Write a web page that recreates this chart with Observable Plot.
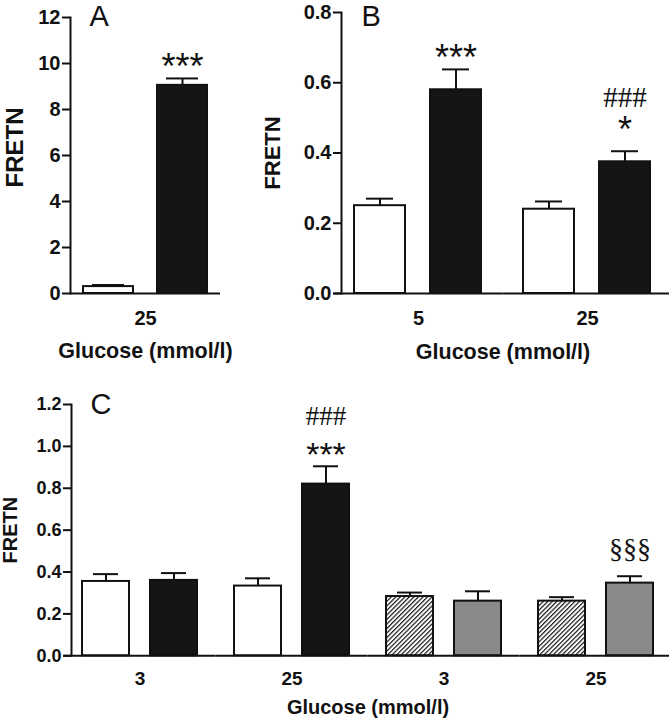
<!DOCTYPE html>
<html>
<head>
<meta charset="utf-8">
<script src="https://cdn.jsdelivr.net/npm/d3@7"></script>
<script src="https://cdn.jsdelivr.net/npm/@observablehq/plot@0.6"></script>
<style>
  html, body { margin: 0; padding: 0; background: #fff; }
  #wrap { position: relative; width: 669px; height: 719px; overflow: hidden; background: #fff; }
  #wrap > div { position: absolute; }
  #wrap svg { display: block; }
</style>
</head>
<body>
<div id="wrap">
  <div id="pa" style="left:0px;top:0px"></div>
  <div id="pb" style="left:240px;top:0px"></div>
  <div id="pc" style="left:0px;top:370px"></div>
</div>
<script>
// ---------- Panel A ----------
const groupsA = ["25"];
const groupLabelsA = ["25"];
const barGroupA = ["25", "25"];
const condA = ["ctrl", "treat"];
const kindA = ["open", "solid"];
const meanA = [0.30, 9.05];
const semA = [0.07, 0.30];
const starsA = ["", "***"];
const hashA = ["", ""];
const sectA = ["", ""];
const yTicksA = [0, 2, 4, 6, 8, 10, 12];
const yTickLabelsA = ["0", "2", "4", "6", "8", "10", "12"];

// ---------- Panel B ----------
const groupsB = ["5", "25"];
const groupLabelsB = ["5", "25"];
const barGroupB = ["5", "5", "25", "25"];
const condB = ["ctrl", "treat", "ctrl", "treat"];
const kindB = ["open", "solid", "open", "solid"];
const meanB = [0.25, 0.58, 0.24, 0.375];
const semB = [0.02, 0.058, 0.022, 0.03];
const starsB = ["", "***", "", "*"];
const hashB = ["", "", "", "###"];
const sectB = ["", "", "", ""];
const yTicksB = [0, 0.2, 0.4, 0.6, 0.8];
const yTickLabelsB = ["0.0", "0.2", "0.4", "0.6", "0.8"];

// ---------- Panel C ----------
const groupsC = ["3a", "25a", "3b", "25b"];
const groupLabelsC = ["3", "25", "3", "25"];
const barGroupC = ["3a", "3a", "25a", "25a", "3b", "3b", "25b", "25b"];
const condC = ["ctrl", "treat", "ctrl", "treat", "ctrl", "treat", "ctrl", "treat"];
const kindC = ["open", "solid", "open", "solid", "striped", "shaded", "striped", "shaded"];
const meanC = [0.355, 0.36, 0.333, 0.82, 0.283, 0.261, 0.261, 0.347];
const semC = [0.035, 0.035, 0.037, 0.085, 0.019, 0.047, 0.019, 0.033];
const starsC = ["", "", "", "***", "", "", "", ""];
const hashC = ["", "", "", "###", "", "", "", ""];
const sectC = ["", "", "", "", "", "", "", "§§§"];
const yTicksC = [0, 0.2, 0.4, 0.6, 0.8, 1.0, 1.2];
const yTickLabelsC = ["0.0", "0.2", "0.4", "0.6", "0.8", "1.0", "1.2"];

const kinds = ["open", "solid", "striped", "shaded"];
const kindFills = ["#ffffff", "#151515", "url(#hatchC)", "#8a8a8a"];
const INK = "#111111";
const SANS = "'Liberation Sans', Arial, Helvetica, sans-serif";
const SERIF = "'Liberation Serif', 'Times New Roman', serif";

function rows(g, c, k, m, s, st, h, sc) {
  return m.map((v, i) => ({group: g[i], cond: c[i], kind: k[i], mean: v, top: v + s[i],
    star: st[i], hash: h[i], sect: sc[i]}));
}

function setFont(svg, label, size, shiftY) {
  const g = svg.querySelector(`[aria-label="${label}"]`);
  if (!g) return;
  g.setAttribute("font-size", size);
  g.setAttribute("font-weight", "bold");
  g.querySelectorAll("text").forEach(t => { t.setAttribute("font-size", size); t.setAttribute("font-weight", "bold"); });
  if (shiftY) g.setAttribute("transform", (g.getAttribute("transform") || "") + ` translate(0,${shiftY})`);
}

function panel(o) {
  const data = rows(o.barGroup, o.cond, o.kind, o.mean, o.sem, o.stars, o.hash, o.sect);
  const lab = new Map(o.groups.map((g, i) => [g, o.groupLabels[i]]));
  const svg = Plot.plot({
    width: o.width, height: o.height,
    marginLeft: o.ml, marginRight: o.mr, marginTop: o.mt, marginBottom: o.mb,
    style: {fontFamily: SANS, color: INK, background: "#fff", overflow: "visible"},
    fx: {domain: o.groups, paddingInner: o.fxPad, paddingOuter: 0},
    x: {domain: ["ctrl", "treat"], paddingInner: o.xpi, paddingOuter: o.xpo, axis: null},
    y: {domain: o.yDomain, axis: null},
    color: {type: "ordinal", domain: kinds, range: kindFills},
    marks: [
      Plot.frame({anchor: "left", facetAnchor: "left", stroke: INK, strokeWidth: 2}),
      Plot.axisY({ticks: o.yTicks, tickFormat: d => o.yTickLabels[o.yTicks.indexOf(d)],
        tickSize: 8, tickPadding: 2, stroke: INK, strokeWidth: 2,
        fontSize: o.tickFont, fontWeight: "bold",
        label: "FRETN", labelAnchor: "center", labelArrow: "none", labelOffset: o.yLabelOffset}),
      Plot.axisFx({anchor: "bottom", tickSize: 0, tickPadding: o.fxTickPad,
        tickFormat: g => lab.get(g), fontSize: o.tickFont, fontWeight: "bold",
        label: "Glucose (mmol/l)", labelAnchor: "center", labelArrow: "none", labelOffset: o.xLabelOffset}),
      Plot.ruleX(data, {fx: "group", x: "cond", y1: "mean", y2: "top", stroke: INK, strokeWidth: 2}),
      Plot.tickY(data, {fx: "group", x: "cond", y: "top", stroke: INK, strokeWidth: 2,
        insetLeft: o.capInset, insetRight: o.capInset}),
      Plot.barY(data, {fx: "group", x: "cond", y: "mean", fill: "kind", stroke: INK, strokeWidth: 2}),
      Plot.ruleY([0], {stroke: INK, strokeWidth: 2, insetLeft: -o.gapHalf, insetRight: -o.gapHalf}),
      Plot.text(data.filter(d => d.star && !d.hash), {fx: "group", x: "cond", y: "top", text: "star",
        lineAnchor: "bottom", fontSize: o.starFont, dy: o.starDy, fill: INK}),
      Plot.text(data.filter(d => d.star && d.hash), {fx: "group", x: "cond", y: "top", text: "star",
        lineAnchor: "bottom", fontSize: o.starFont, dy: o.starDyStacked, fill: INK}),
      Plot.text(data.filter(d => d.hash), {fx: "group", x: "cond", y: "top", text: "hash",
        lineAnchor: "bottom", fontSize: o.hashFont, fontFamily: SERIF, dy: o.hashDy, fill: INK}),
      Plot.text(data.filter(d => d.sect), {fx: "group", x: "cond", y: "top", text: "sect",
        lineAnchor: "bottom", fontSize: o.sectFont, fontFamily: SERIF, dy: o.sectDy, fill: INK}),
      Plot.text([o.letter], {frameAnchor: "top-left", facetAnchor: "left", textAnchor: "start",
        lineAnchor: "top", dx: o.letterDx, dy: o.letterDy, fontSize: 29, fill: INK})
    ]
  });
  setFont(svg, "y-axis tick label", o.tickFont);
  setFont(svg, "fx-axis tick label", o.fxTickFont);
  setFont(svg, "y-axis label", o.yLabelFont, o.yLabelShift);
  setFont(svg, "fx-axis label", o.xLabelFont);
  return svg;
}

const svgA = panel({
  letter: "A", groups: groupsA, groupLabels: groupLabelsA, barGroup: barGroupA, cond: condA, kind: kindA,
  mean: meanA, sem: semA, stars: starsA, hash: hashA, sect: sectA,
  yDomain: [0, 12], yTicks: yTicksA, yTickLabels: yTickLabelsA,
  width: 235, height: 370, ml: 70, mr: 15, mt: 17, mb: 77,
  fxPad: 0, xpi: 0.322, xpo: 0.168, gapHalf: 0, capInset: 9,
  tickFont: 20, fxTickFont: 20, fxTickPad: 17, yLabelOffset: 65, yLabelFont: 24, yLabelShift: -8,
  xLabelOffset: 64, xLabelFont: 21.5,
  starFont: 36, starDy: 1, starDyStacked: 1, hashFont: 29, hashDy: -43, sectFont: 28, sectDy: -18, letterDx: 19, letterDy: -12
});
document.getElementById("pa").appendChild(svgA);

const svgB = panel({
  letter: "B", groups: groupsB, groupLabels: groupLabelsB, barGroup: barGroupB, cond: condB, kind: kindB,
  mean: meanB, sem: semB, stars: starsB, hash: hashB, sect: sectB,
  yDomain: [0, 0.8], yTicks: yTicksB, yTickLabels: yTickLabelsB,
  width: 429, height: 370, ml: 100, mr: 4, mt: 12, mb: 77,
  fxPad: 0.088, xpi: 0.327, xpo: 0.176, gapHalf: 7.5, capInset: 12,
  tickFont: 20, fxTickFont: 20, fxTickPad: 17, yLabelOffset: 77, yLabelFont: 22, yLabelShift: 0,
  xLabelOffset: 65, xLabelFont: 21.5,
  starFont: 36, starDy: 1, starDyStacked: -9, hashFont: 29, hashDy: -44, sectFont: 28, sectDy: -18, letterDx: 20, letterDy: -7
});
document.getElementById("pb").appendChild(svgB);

const svgC = panel({
  letter: "C", groups: groupsC, groupLabels: groupLabelsC, barGroup: barGroupC, cond: condC, kind: kindC,
  mean: meanC, sem: semC, stars: starsC, hash: hashC, sect: sectC,
  yDomain: [0, 1.2], yTicks: yTicksC, yTickLabels: yTickLabelsC,
  width: 669, height: 349, ml: 70, mr: 4, mt: 34, mb: 63.7,
  fxPad: 0.098, xpi: 0.316, xpo: 0.165, gapHalf: 7.5, capInset: 11,
  tickFont: 18, fxTickFont: 19, fxTickPad: 16, yLabelOffset: 69, yLabelFont: 20, yLabelShift: 0,
  xLabelOffset: 58, xLabelFont: 20,
  starFont: 34, starDy: 0, starDyStacked: 0, hashFont: 27, hashDy: -41, sectFont: 28, sectDy: -18, letterDx: 19, letterDy: -11
});
const ns = "http://www.w3.org/2000/svg";
const defs = document.createElementNS(ns, "defs");
defs.innerHTML = '<pattern id="hatchC" patternUnits="userSpaceOnUse" width="3.2" height="3.2" patternTransform="rotate(45)">' +
  '<rect width="3.2" height="3.2" fill="#ffffff"></rect>' +
  '<line x1="0.6" y1="-1" x2="0.6" y2="4.2" stroke="#1a1a1a" stroke-width="1.25"></line></pattern>';
svgC.insertBefore(defs, svgC.firstChild);
document.getElementById("pc").appendChild(svgC);
</script>
</body>
</html>
